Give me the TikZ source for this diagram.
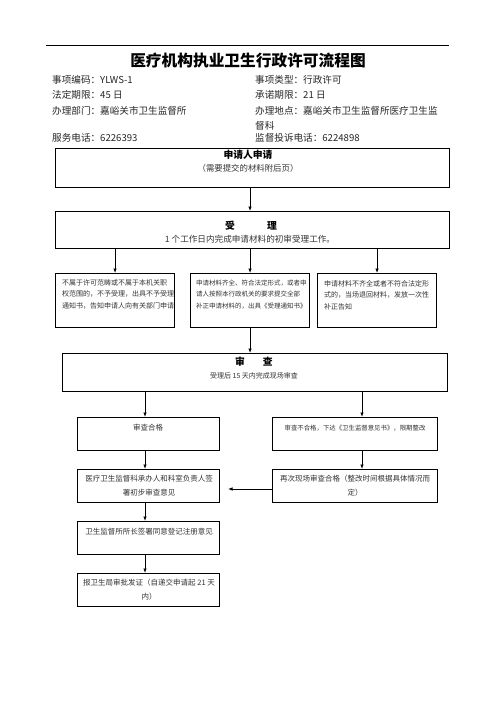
\documentclass[tikz,border=0pt]{standalone}
\usepackage{fontspec}
\setmainfont{Noto Sans CJK SC}
\usetikzlibrary{arrows.meta,calc}
\begin{document}
\begin{tikzpicture}[x=1pt,y=-1pt,
  box/.style={draw,line width=1.1pt,rectangle,inner sep=0pt,anchor=north west},
  arr/.style={line width=0.8pt,-{Latex[length=4.5pt,width=3.5pt]}},
  info/.style={anchor=west,inner sep=0pt,text=black!85,font=\fontsize{9.6}{12}\selectfont},
  btitle/.style={inner sep=0pt,font=\bfseries\fontsize{9.8}{12}\selectfont},
  bt/.style={inner sep=0pt,text=black!80,font=\fontsize{7.5}{14}\selectfont},
  bs/.style={inner sep=0pt,anchor=north west,align=left,text=black!80,font=\fontsize{7}{11.6}\selectfont}]
\useasboundingbox (0,0) rectangle (496,702);
\fill[white] (0,0) rectangle (496,702);

% header
\draw[line width=1pt] (46,45) -- (449,45);
\node[inner sep=0pt,font=\bfseries\fontsize{15.7}{18}\selectfont] (title) at (248,61) {医疗机构执业卫生行政许可流程图};
\node[info] (i1) at (52,80) {事项编码：YLWS-1};
\node[info] (i2) at (255,80) {事项类型：行政许可};
\node[info] (i3) at (52,95) {法定期限：45 日};
\node[info] (i4) at (255,95) {承诺期限：21 日};
\node[info] (i5) at (52,111) {办理部门：嘉峪关市卫生监督所};
\node[info] (i6) at (255,111) {办理地点：嘉峪关市卫生监督所医疗卫生监};
\node[info] (i6b) at (255,126) {督科};
\node[info] (i7) at (52,138) {服务电话：6226393};
\node[info] (i8) at (255,138) {监督投诉电话：6224898};

% boxes
\node[box,minimum width=394pt,minimum height=39pt] (b1) at (55,148) {};
\node[box,minimum width=394pt,minimum height=37pt] (b2) at (55,211) {};
\node[box,minimum width=119pt,minimum height=54pt] (b3a) at (55,273) {};
\node[box,minimum width=119pt,minimum height=54pt] (b3b) at (190,273) {};
\node[box,minimum width=119pt,minimum height=54pt] (b3c) at (317,273) {};
\node[box,minimum width=385pt,minimum height=38pt] (b4) at (62,353) {};
\node[box,minimum width=142pt,minimum height=33pt] (b5a) at (77,417) {};
\node[box,minimum width=165pt,minimum height=33pt] (b5b) at (272,417) {};
\node[box,minimum width=142pt,minimum height=33pt] (b6a) at (77,469) {};
\node[box,minimum width=165pt,minimum height=33pt] (b6b) at (272,469) {};
\node[box,minimum width=142pt,minimum height=33pt] (b7) at (77,521) {};
\node[box,minimum width=142pt,minimum height=33pt] (b8) at (77,573) {};

% box texts
\node[btitle] (t1) at (248,155) {申请人申请};
\node[bt,font=\fontsize{8.4}{12}\selectfont] (s1) at (248,168) {（需要提交的材料附后页）};
\node[btitle] (t2) at (251,226) {受\hspace{32pt}理};
\node[bt,font=\fontsize{8.6}{12}\selectfont] (s2) at (250,239) {1 个工作日内完成申请材料的初审受理工作。};
\node[bs] (s3a) at (62,279) {不属于许可范畴或不属于本机关职\\权范围的，不予受理，出具不予受理\\通知书，告知申请人向有关部门申请};
\node[bs,font=\fontsize{6.5}{11.6}\selectfont] (s3b) at (196,279.5) {申请材料齐全、符合法定形式，或者申\\请人按照本行政机关的要求提交全部\\补正申请材料的，出具《受理通知书》};
\node[bs] (s3c) at (324,280) {申请材料不齐全或者不符合法定形\\式的，当场退回材料，发放一次性\\补正告知};
\node[btitle] (t4) at (254,362) {审\hspace{18pt}查};
\node[bt,font=\fontsize{7}{12}\selectfont] (s4) at (254,376) {受理后 15 天内完成现场审查};
\node[bt] (s5a) at (148,428) {审查合格};
\node[bt,font=\fontsize{6.4}{12}\selectfont] (s5b) at (355,428) {审查不合格，下达《卫生监督意见书》，限期整改};
\node[bt,align=center] (s6a) at (149,486) {医疗卫生监督科承办人和科室负责人签\\署初步审查意见};
\node[bt,align=center] (s6b) at (355,485.5) {再次现场审查合格（整改时间根据具体情况而\\定）};
\node[bt] (s7) at (149,532) {卫生监督所所长签署同意登记注册意见};
\node[bt,align=center] (s8) at (149,590) {报卫生局审批发证（自递交申请起 21 天\\内）};

% connectors
\coordinate (xl) at (145,0);
\coordinate (xr) at (362,0);
\coordinate (lend) at (228,489);
\draw[arr] (b1.south -| b3b.north) -- (b2.north -| b3b.north);
\draw[arr] (b2.south -| b3a.north) -- (b3a.north);
\draw[arr] (b2.south -| b3b.north) -- (b3b.north);
\draw[arr] (b2.south -| b3c.north) -- (b3c.north);
\draw[arr] (b3b.south) -- (b3b.south |- b4.north);
\draw[arr] (b4.south -| xl) -- (b5a.north -| xl);
\draw[arr] (b4.south -| xr) -- (b5b.north -| xr);
\draw[arr] (b5a.south -| xl) -- (b6a.north -| xl);
\draw[arr] (b5b.south -| xr) -- (b6b.north -| xr);
\draw[arr] (b6a.south -| xl) -- (b7.north -| xl);
\draw[arr] (b7.south -| xl) -- (b8.north -| xl);
\draw[arr] (b6b.west |- lend) -- (lend);
\end{tikzpicture}
\end{document}
